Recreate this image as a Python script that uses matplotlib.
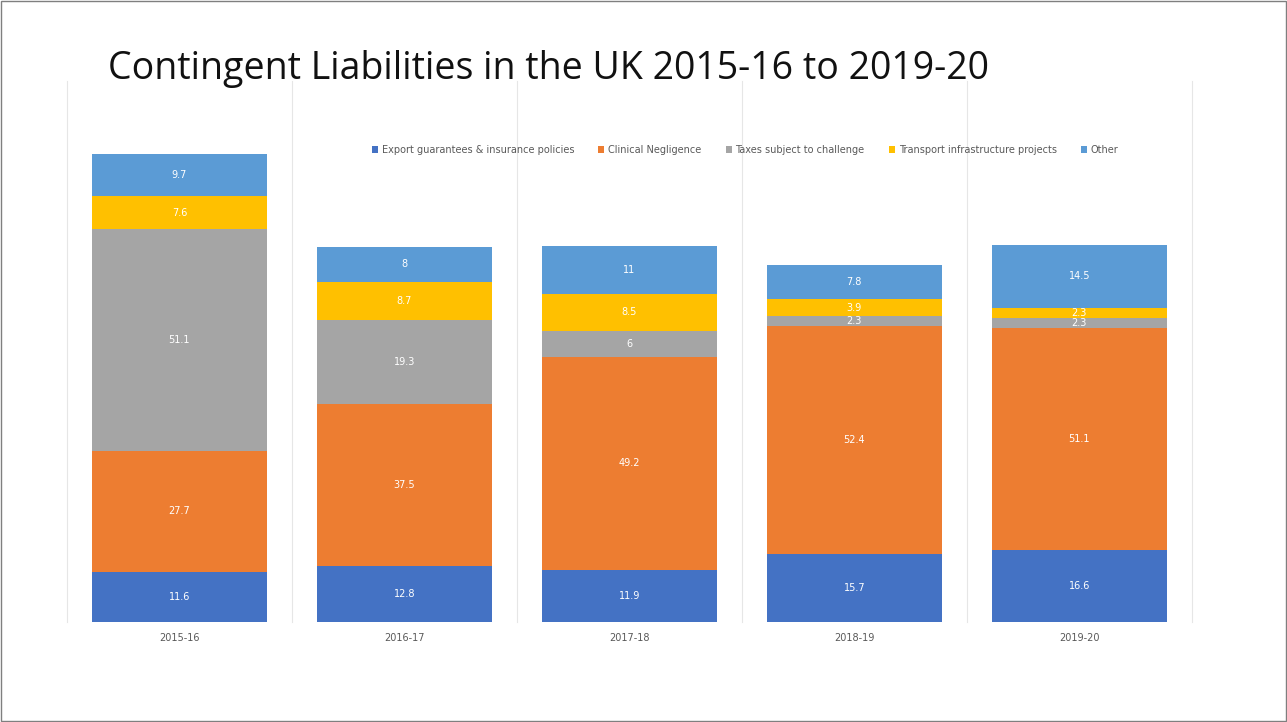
import matplotlib.pyplot as plt
import numpy as np
from matplotlib.patches import Rectangle

years = ['2015-16', '2016-17', '2017-18', '2018-19', '2019-20']
series = ['Export guarantees & insurance policies', 'Clinical Negligence',
          'Taxes subject to challenge', 'Transport infrastructure projects', 'Other']
export = [11.6, 12.8, 11.9, 15.7, 16.6]
clinical = [27.7, 37.5, 49.2, 52.4, 51.1]
taxes = [51.1, 19.3, 6.0, 2.3, 2.3]
transport = [7.6, 8.7, 8.5, 3.9, 2.3]
other = [9.7, 8.0, 11.0, 7.8, 14.5]
colors = ['#4472C4', '#ED7D31', '#A5A5A5', '#FFC000', '#5B9BD5']

fig = plt.figure(figsize=(12.87, 7.22), dpi=100)
fig.patches.append(Rectangle((0.001, 0.001), 0.998, 0.997, transform=fig.transFigure,
                             fill=False, edgecolor='#7f7f7f', lw=1))
ax = fig.add_axes([0.052, 0.1385, 0.874, 0.728])

x = np.arange(len(years))
bottom = np.zeros(len(years))
for name, vals, c in zip(series, [export, clinical, taxes, transport, other], colors):
    vals = np.array(vals)
    ax.bar(x, vals, 0.78, bottom=bottom, color=c, label=name)
    for xi, b, v in zip(x, bottom, vals):
        txt = f'{v:g}' if v != int(v) else f'{int(v)}'
        ax.text(xi, b + v / 2, txt, ha='center', va='center', color='white', fontsize=7)
    bottom += vals

ax.set_xlim(-0.5, 4.5)
ax.set_ylim(0, 121)
for b in np.arange(-0.5, 5.0, 1.0):
    ax.axvline(b, ymin=0, ymax=1.03, color='#e6e6e6', lw=0.8, clip_on=False)
for s in ax.spines.values():
    s.set_visible(False)
ax.set_yticks([])
ax.set_xticks(x)
ax.set_xticklabels(years, fontsize=7, color='#595959')
ax.tick_params(axis='x', length=0, pad=8)

ax.legend(loc='center', bbox_to_anchor=(0.603, 0.898), ncol=5, frameon=False,
          fontsize=7, handlelength=0.6, handleheight=0.6, columnspacing=2.5,
          handletextpad=0.4, labelcolor='#595959')

fig.text(0.084, 0.905, 'Contingent Liabilities in the UK 2015-16 to 2019-20',
         fontsize=27, family='Open Sans', color='#111111', va='center')

fig.savefig('out.png', dpi=100)
